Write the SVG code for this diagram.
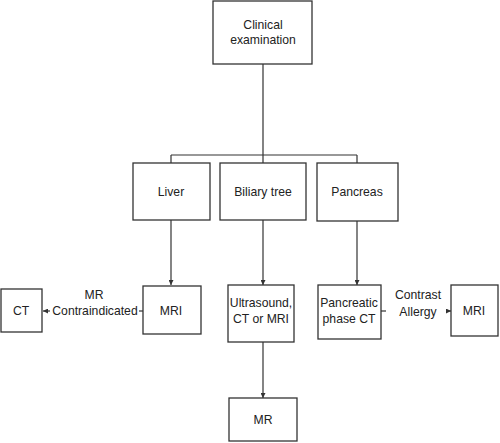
<svg xmlns="http://www.w3.org/2000/svg" width="500" height="443" viewBox="0 0 500 443">
<style>
.box{fill:#fff;stroke:#333;stroke-width:1.3}
.t{font-family:"Liberation Sans",Arial,sans-serif;font-size:12.2px;fill:#222;text-anchor:middle}
.c{fill:none;stroke:#333;stroke-width:1.2}
</style>
<defs>
<marker id="ah" viewBox="0 0 6 6" refX="6" refY="3" markerWidth="5" markerHeight="5" orient="auto" markerUnits="userSpaceOnUse">
<path d="M0,0 L6,3 L0,6 Z" fill="#333"/>
</marker>
</defs>
<rect width="500" height="443" fill="#fff"/>
<g id="connectors">
<path class="c" d="M263,64 V155 M171,155 H357 M171,155 V163 M263,155 V163 M357,155 V163"/>
<path class="c" d="M171,220 V285" marker-end="url(#ah)"/>
<path class="c" d="M263,220 V285" marker-end="url(#ah)"/>
<path class="c" d="M357,221 V285" marker-end="url(#ah)"/>
<path class="c" d="M263,342 V398" marker-end="url(#ah)"/>
<path class="c" d="M143,311 H139"/>
<path class="c" d="M50,311 H43" marker-end="url(#ah)"/>
<path class="c" d="M381,311 H386"/>
<path class="c" d="M446,311 H451" marker-end="url(#ah)"/>
<text class="t" x="94" y="299">MR</text>
<text class="t" x="95" y="315">Contraindicated</text>
<text class="t" x="418" y="299">Contrast</text>
<text class="t" x="418" y="316">Allergy</text>
</g>
<g id="clinical">
<rect class="box" x="213" y="1" width="99" height="63"/>
<text class="t" x="263" y="29">Clinical</text>
<text class="t" x="263" y="44">examination</text>
</g>
<g id="liver">
<rect class="box" x="133" y="163" width="77" height="57"/>
<text class="t" x="171" y="196">Liver</text>
</g>
<g id="biliary">
<rect class="box" x="220" y="163" width="86" height="57"/>
<text class="t" x="263" y="196">Biliary tree</text>
</g>
<g id="pancreas">
<rect class="box" x="317" y="163" width="81" height="58"/>
<text class="t" x="357" y="196">Pancreas</text>
</g>
<g id="ct">
<rect class="box" x="1" y="289" width="41" height="43"/>
<text class="t" x="21" y="315">CT</text>
</g>
<g id="mri1">
<rect class="box" x="143" y="286" width="58" height="48"/>
<text class="t" x="171" y="315">MRI</text>
</g>
<g id="ultrasound">
<rect class="box" x="228" y="285" width="66" height="57"/>
<text class="t" x="261" y="307">Ultrasound,</text>
<text class="t" x="261" y="323">CT or MRI</text>
</g>
<g id="pancreatic">
<rect class="box" x="318" y="285" width="63" height="54"/>
<text class="t" x="349" y="307">Pancreatic</text>
<text class="t" x="349" y="323">phase CT</text>
</g>
<g id="mri2">
<rect class="box" x="451" y="285" width="47" height="51"/>
<text class="t" x="474" y="315">MRI</text>
</g>
<g id="mr">
<rect class="box" x="229" y="398" width="68" height="43"/>
<text class="t" x="263" y="424">MR</text>
</g>
</svg>
